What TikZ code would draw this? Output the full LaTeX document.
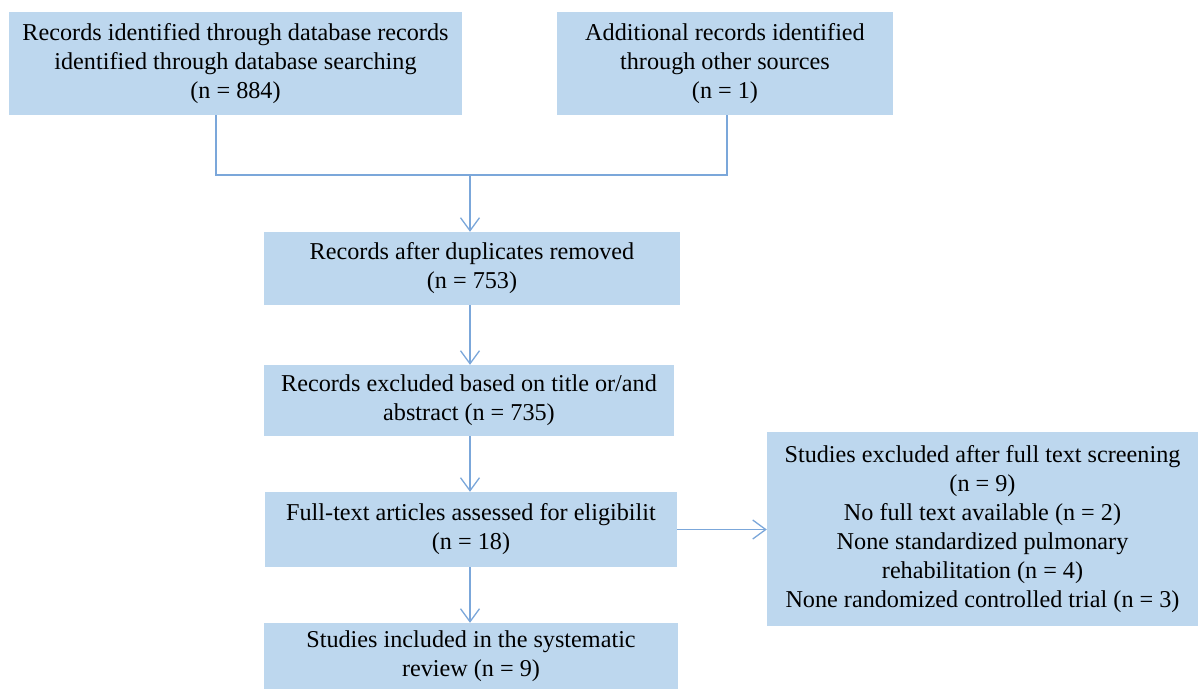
\documentclass[tikz,border=0pt]{standalone}
\usepackage{fontspec}
\setmainfont{Liberation Serif}
\usetikzlibrary{arrows.meta}
\definecolor{boxfill}{HTML}{BDD7EE}
\definecolor{linec}{HTML}{7BA7DA}
\begin{document}
\begin{tikzpicture}[x=1pt,y=-1pt,
  box/.style={fill=boxfill,draw=none,align=center,inner sep=0pt,
    font=\fontsize{24.2}{29}\selectfont},
  conn/.style={draw=linec,line width=1.5pt},
  arr/.style={conn,-{Straight Barb[length=13pt,width=19pt,line width=1.3pt]}}]
\useasboundingbox (0,0) rectangle (1198,689);
\node[box,minimum width=453,minimum height=103] (b1) at (235.5,63.5)
  {Records identified through database records\\identified through database searching\\(n = 884)};
\node[box,minimum width=336,minimum height=103] (b2) at (725,63.5)
  {Additional records identified\\through other sources\\(n = 1)};
\node[box,minimum width=416,minimum height=73] (b3) at (472,268.5)
  {Records after duplicates removed\\(n = 753)};
\node[box,minimum width=410,minimum height=71] (b4) at (469,400.5)
  {Records excluded based on title or/and\\abstract (n = 735)};
\node[box,minimum width=412,minimum height=75] (b5) at (471,529.5)
  {Full-text articles assessed for eligibilit\\(n = 18)};
\node[box,minimum width=414,minimum height=66] (b6) at (471,656)
  {Studies included in the systematic\\review (n = 9)};
\node[box,minimum width=431,minimum height=194] (b7) at (982.5,529)
  {Studies excluded after full text screening\\(n = 9)\\No full text available (n = 2)\\None standardized pulmonary\\rehabilitation (n = 4)\\None randomized controlled trial (n = 3)};
\coordinate (j1) at (216,175);
\coordinate (j2) at (727,175);
\coordinate (jm) at (470,175);
\draw[conn] (b1.south -| j1) -- (j1) -- (j2) -- (b2.south -| j2);
\draw[arr] (jm) -- (jm |- b3.north);
\draw[arr] (jm |- b3.south) -- (jm |- b4.north);
\draw[arr] (jm |- b4.south) -- (jm |- b5.north);
\draw[arr] (jm |- b5.south) -- (jm |- b6.north);
\draw[arr] (b5.east) -- (b7.west |- b5.east);
\end{tikzpicture}
\end{document}
